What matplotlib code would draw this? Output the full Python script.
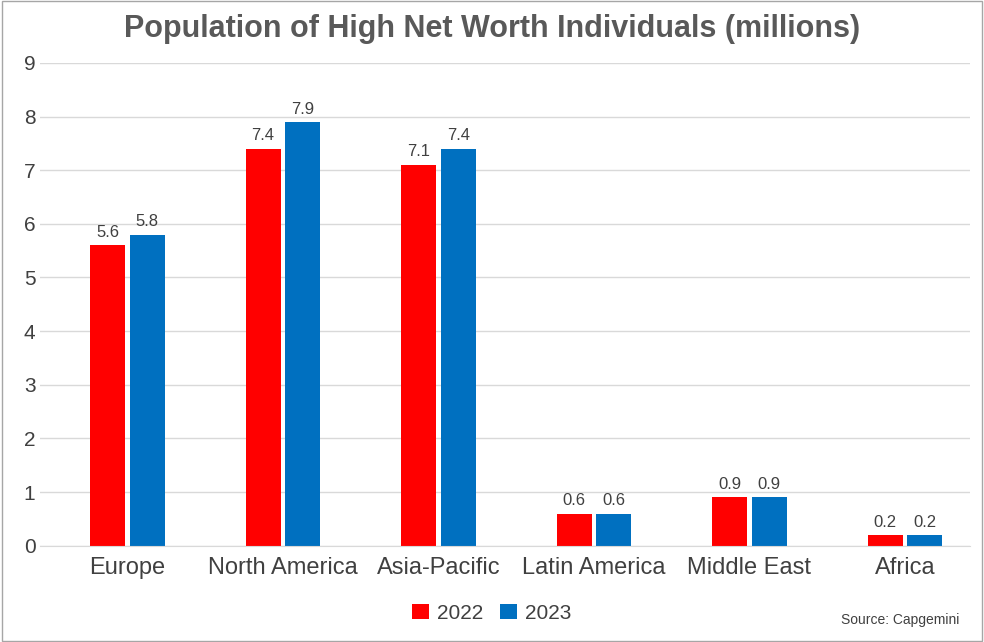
import numpy as np
import matplotlib.pyplot as plt

plt.rcParams['font.family'] = ['Liberation Sans Narrow', 'Liberation Sans', 'DejaVu Sans']

regions = ["Europe", "North America", "Asia-Pacific", "Latin America", "Middle East", "Africa"]
hnwi_2022 = [5.6, 7.4, 7.1, 0.6, 0.9, 0.2]
hnwi_2023 = [5.8, 7.9, 7.4, 0.6, 0.9, 0.2]

fig = plt.figure(figsize=(9.84, 6.42), dpi=100)
ax = fig.add_axes([0.041, 0.150, 0.945, 0.752])

x = np.arange(len(regions))
w = 0.225
gap = 0.015
b1 = ax.bar(x - w / 2 - gap, hnwi_2022, w, color="#FF0000", label="2022")
b2 = ax.bar(x + w / 2 + gap, hnwi_2023, w, color="#0070C0", label="2023")
for bars in (b1, b2):
    for r in bars:
        ax.text(r.get_x() + r.get_width() / 2, r.get_height() + 0.1, f"{r.get_height():.1f}",
                ha="center", va="bottom", fontsize=12, color="#404040")

ax.set_ylim(0, 9)
ax.set_xlim(-0.56, 5.42)
ax.set_yticks(range(10))
ax.set_xticks(x)
ax.set_xticklabels(regions, fontsize=17, color="#404040")
ax.tick_params(axis="y", labelsize=15, colors="#404040", length=0)
ax.tick_params(axis="x", length=0, pad=8)
ax.grid(axis="y", color="#D9D9D9", linewidth=1)
ax.set_axisbelow(True)
for s in ["top", "right", "left"]:
    ax.spines[s].set_visible(False)
ax.spines["bottom"].set_color("#D9D9D9")

fig.text(0.5, 0.955, "Population of High Net Worth Individuals (millions)", ha="center", va="center",
         fontsize=22, fontweight="bold", color="#595959")
fig.legend(loc="center", bbox_to_anchor=(0.5, 0.045), ncol=2, frameon=False, fontsize=15,
           handlelength=0.8, handleheight=0.8, columnspacing=0.8, handletextpad=0.4,
           labelcolor="#404040")
fig.text(0.975, 0.035, "Source: Capgemini", ha="right", va="center", fontsize=10, color="#404040")
fig.patches.append(plt.Rectangle((0.002, 0.002), 0.996, 0.996, transform=fig.transFigure,
                                 fill=False, edgecolor="#A6A6A6", linewidth=1))

fig.savefig("out.png", dpi=100)
